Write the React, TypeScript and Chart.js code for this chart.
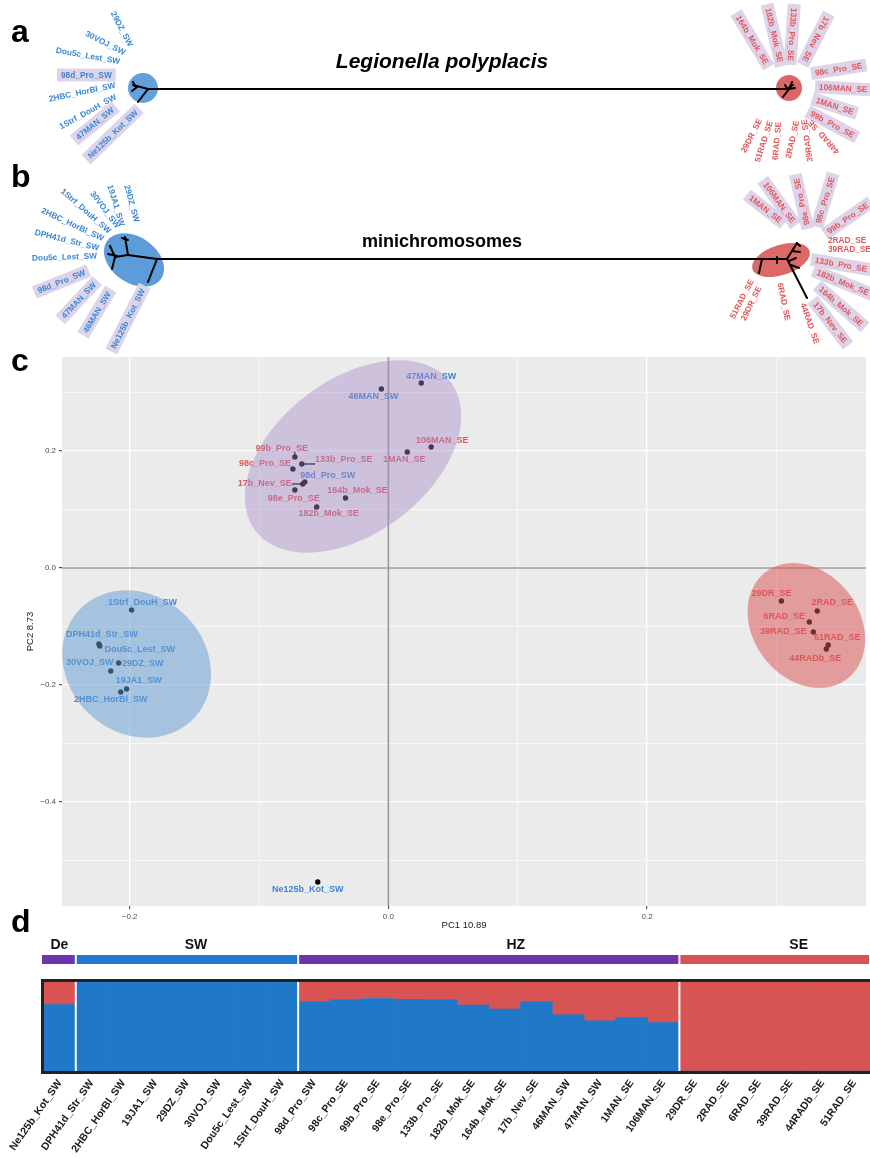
import React, { useEffect, useRef } from 'react';
import { Chart, registerables } from 'chart.js';

Chart.register(...registerables);

const FONT = '"Liberation Sans", Arial, Helvetica, sans-serif';
const SW_TEXT = '#3b87d4';
const SE_TEXT = '#e0585b';
const HL_BOX = '#ddd4ea';
const tipColor = (n: string) => (n.endsWith('_SE') ? SE_TEXT : SW_TEXT);

/* ---------------- panel d: STRUCTURE ancestry ---------------- */
const structSamples = [
  'Ne125b_Kot_SW', 'DPH41d_Str_SW', '2HBC_HorBl_SW', '19JA1_SW', '29DZ_SW', '30VOJ_SW',
  'Dou5c_Lest_SW', '1Strf_DouH_SW', '98d_Pro_SW', '98c_Pro_SE', '99b_Pro_SE', '98e_Pro_SE',
  '133b_Pro_SE', '182b_Mok_SE', '164b_Mok_SE', '17b_Nev_SE', '46MAN_SW', '47MAN_SW',
  '1MAN_SE', '106MAN_SE', '29DR_SE', '2RAD_SE', '6RAD_SE', '39RAD_SE', '44RADb_SE', '51RAD_SE',
];
const ancestrySW = [0.746, 1, 1, 1, 1, 1, 1, 1, 0.778, 0.8, 0.815, 0.804, 0.8, 0.741, 0.696, 0.778, 0.63, 0.563, 0.6, 0.544, 0, 0, 0, 0, 0, 0];
const ancestrySE = [0.254, 0, 0, 0, 0, 0, 0, 0, 0.222, 0.2, 0.185, 0.196, 0.2, 0.259, 0.304, 0.222, 0.37, 0.437, 0.4, 0.456, 1, 1, 1, 1, 1, 1];
const structGroups = ['De', 'SW', 'HZ', 'SE'];
const structGroupSizes = [1, 7, 12, 6];
const structGroupColors = ['#6a35ae', '#1f78c8', '#6a35ae', '#d85353'];
const structGroupLabelShift = [1, 9, 27, 24];

const sampleGroup: Record<string, string> = {};
(() => {
  let k = 0;
  structGroups.forEach((g, gi) => {
    for (let j = 0; j < structGroupSizes[gi]; j++) sampleGroup[structSamples[k++]] = g;
  });
})();
const isMixed = (n: string) => sampleGroup[n] === 'HZ' || sampleGroup[n] === 'De';

/* ---------------- panel c: PCA ---------------- */
const pcaSamples = [
  '47MAN_SW', '46MAN_SW', '106MAN_SE', '1MAN_SE', '99b_Pro_SE', '133b_Pro_SE', '98c_Pro_SE',
  '98d_Pro_SW', '17b_Nev_SE', '98e_Pro_SE', '164b_Mok_SE', '182b_Mok_SE', '29DR_SE', '2RAD_SE',
  '6RAD_SE', '39RAD_SE', '51RAD_SE', '44RADb_SE', '1Strf_DouH_SW', 'DPH41d_Str_SW',
  'Dou5c_Lest_SW', '29DZ_SW', '30VOJ_SW', '19JA1_SW', '2HBC_HorBl_SW', 'Ne125b_Kot_SW',
];
const pc1 = [0.0254, -0.0054, 0.0331, 0.0146, -0.0723, -0.0669, -0.0738, -0.0646, -0.0662, -0.0723, -0.0331, -0.0554,
  0.3038, 0.3315, 0.3254, 0.3285, 0.34, 0.3385, -0.1985, -0.2238, -0.2231, -0.2085, -0.2146, -0.2023, -0.2069, -0.0546];
const pc2 = [0.3162, 0.306, 0.2068, 0.1983, 0.1897, 0.1778, 0.1692, 0.147, 0.1436, 0.1333, 0.1197, 0.1043,
  -0.0564, -0.0735, -0.0923, -0.1094, -0.1316, -0.1385, -0.0718, -0.1299, -0.1333, -0.1624, -0.1761, -0.2068, -0.212, -0.5368];
// text-label nudges (pixels) in the same order as pcaSamples
const pcaLabelNudge = [
  [10, -7], [-8, 8], [11, -7], [-3, 8], [-13, -9], [42, -4], [-28, -6], [23, -6], [-38, 0], [-1, 8], [12, -7], [12, 7],
  [-10, -7], [15, -8], [-25, -5], [-30, 0], [9, -7], [-11, 9], [11, -7], [3, -9], [40, 4], [24, 1], [-21, -8], [12, -8], [-10, 7], [-10, 7],
];
const pcaLeaderSamples = ['99b_Pro_SE', '133b_Pro_SE', '17b_Nev_SE'];
const pcaXTicks = [-0.2, -0.1, 0, 0.1, 0.2, 0.3];
const pcaYTicks = [-0.5, -0.4, -0.3, -0.2, -0.1, 0, 0.1, 0.2, 0.3];
const pcaXRange = [-0.2523, 0.3692];
const pcaYRange = [-0.5778, 0.3607];
const pcaXTitle = 'PC1 10.89';
const pcaYTitle = 'PC2 8.73';
// confidence ellipses: centre and semi-axis vectors in data units
const pcaEllipseHZ = { center: [-0.0273, 0.1906], major: [0.0756, 0.1265], minor: [0.0357, -0.1051], fill: 'rgba(165,137,200,0.42)' };
const pcaEllipseSW = { center: [-0.1946, -0.1641], major: [0.0452, -0.0904], minor: [-0.0355, -0.0877], fill: 'rgba(101,157,213,0.52)' };
const pcaEllipseSE = { center: [0.3231, -0.0983], major: [0.0317, -0.0909], minor: [-0.0325, -0.0559], fill: 'rgba(219,85,85,0.52)' };
const pcaEllipses = [pcaEllipseHZ, pcaEllipseSW, pcaEllipseSE];

/* ---------------- panels a, b: trees ---------------- */
const treeATitle = 'Legionella polyplacis';
const treeBTitle = 'minichromosomes';

const treeALeftTips = ['29DZ_SW', '30VOJ_SW', 'Dou5c_Lest_SW', '98d_Pro_SW', '2HBC_HorBl_SW', '1Strf_DouH_SW', '47MAN_SW', 'Ne125b_Kot_SW'];
const treeARightTips = ['164b_Mok_SE', '182b_Mok_SE', '133b_Pro_SE', '17b_Nev_SE', '98c_Pro_SE', '106MAN_SE', '1MAN_SE', '99b_Pro_SE',
  '29DR_SE', '51RAD_SE', '6RAD_SE', '2RAD_SE', '39RAD_SE', '44RAD_SE'];
const treeBLeftTips = ['29DZ_SW', '19JA1_SW', '30VOJ_SW', '1Strf_DouH_SW', '2HBC_HorBl_SW', 'DPH41d_Str_SW', 'Dou5c_Lest_SW',
  '98d_Pro_SW', '47MAN_SW', '46MAN_SW', 'Ne125b_Kot_SW'];
const treeBRightTips = ['1MAN_SE', '106MAN_SE', '98e_Pro_SE', '98c_Pro_SE', '99b_Pro_SE', '2RAD_SE', '39RAD_SE', '133b_Pro_SE',
  '182b_Mok_SE', '164b_Mok_SE', '17b_Nev_SE', '44RAD_SE', '6RAD_SE', '29DR_SE', '51RAD_SE'];

// tree branches (local units relative to each clade node)
const treeALeftBranches = [[[14, 1], [5, 1]], [[5, 1], [-10, -3]], [[5, 1], [-5, 14]], [[-6, -1], [-11, 3]], [[-8, -2], [-10, -6]]];
const treeARightBranches = [[[-2, 1], [4, -3]], [[-6, 9], [3, -3]], [[0, 1], [6, 0]], [[1, -1], [3, -6]], [[-1, 2], [-4, -3]]];
const treeBLeftBranches = [[[23, -1], [14, 22]], [[23, -1], [-6, -5]], [[-6, -5], [-9, -23]], [[-12, -22], [-6, -20]],
  [[-6, -5], [-19, -3]], [[-19, -3], [-24, -14]], [[-19, -3], [-22, 9]], [[-17, -4], [-26, -6]]];
const treeBRightBranches = [[[6, -1], [-19, -1]], [[-19, -1], [-22, 13]], [[-4, -3], [-4, 3]], [[6, -1], [16, -17]],
  [[11, -9], [19, -8]], [[16, -17], [19, -14]], [[6, -1], [26, 38]], [[10, 5], [18, 8]], [[8, 1], [15, -2]]];

// label layout: [dx, dy, angle] of each tip label start, relative to clade node
const treeALeftLayout = [[-30, -76, 62], [-57, -55, 27], [-87, -38, 10], [-82, -13, 0], [-94, 11, -12], [-83, 39, -29], [-66, 50, -39], [-54, 69, -44]];
const treeARightLayout = [[-51, -72, 59], [-21, -80, 77], [5, -80, 94], [38, -71, 117], [26, -15, -9], [30, -1, 3], [27, 12, 18], [22, 25, 28],
  [-46, 64, -63], [-32, 74, -72], [-14, 72, -85], [-1, 70, -77], [21, 74, -98], [49, 65, -132]];
const treeBLeftLayout = [[-7, -75, 75], [-24, -75, 73], [-42, -68, 53], [-72, -70, 41], [-92, -50, 25], [-99, -28, 14], [-102, -2, -2],
  [-96, 31, -22], [-71, 57, -47], [-49, 72, -59], [-21, 88, -63]];
const treeBRightLayout = [[-31, -63, 38], [-16, -77, 54], [26, -35, -103], [37, -37, -73], [47, -28, -35], [47, -20, 0], [47, -11, 0],
  [34, 0, 10], [36, 12, 22], [39, 28, 41], [34, 43, 52], [22, 43, 71], [-1, 23, 78], [-38, 60, -64], [-49, 58, -63]];

const treePanels = [
  {
    title: treeATitle, titleFont: `italic bold 21px ${FONT}`, titleY: 62, letter: 'a', letterY: 42,
    left: { cx: 143, cy: 88, rx: 15, ry: 15, rot: 0, color: '#64a0dc', root: [14, 1], branches: treeALeftBranches, tips: treeALeftTips, layout: treeALeftLayout },
    right: { cx: 789, cy: 88, rx: 13, ry: 13, rot: 0, color: '#dc6565', root: [-2, 1], branches: treeARightBranches, tips: treeARightTips, layout: treeARightLayout },
  },
  {
    title: treeBTitle, titleFont: `bold 18px ${FONT}`, titleY: 242, letter: 'b', letterY: 187,
    left: { cx: 134, cy: 260, rx: 33, ry: 23, rot: 35, color: '#5d9bd9', root: [23, -1], branches: treeBLeftBranches, tips: treeBLeftTips, layout: treeBLeftLayout },
    right: { cx: 781, cy: 260, rx: 30, ry: 15, rot: -18, color: '#dc6868', root: [6, -1], branches: treeBRightBranches, tips: treeBRightTips, layout: treeBRightLayout },
  },
];

const TREE_H = 360;

const fmtTick = (v: number) => (Math.abs(v) < 1e-9 ? '0.0' : v.toFixed(1).replace('-', '\u2212'));
const isMajor = (v: number) => Math.abs(Math.round(v * 10)) % 2 === 0;

const treePlugin = {
  id: 'treeDecor',
  beforeDatasetsDraw(chart: any) {
    const { ctx, scales } = chart;
    const sx = (v: number) => scales.x.getPixelForValue(v);
    const sy = (v: number) => scales.y.getPixelForValue(v);
    ctx.save();
    treePanels.forEach((p) => {
      [p.left, p.right].forEach((n) => {
        ctx.beginPath();
        ctx.ellipse(sx(n.cx), sy(n.cy), n.rx, n.ry, (n.rot * Math.PI) / 180, 0, Math.PI * 2);
        ctx.fillStyle = n.color;
        ctx.fill();
      });
    });
    ctx.restore();
  },
  afterDatasetsDraw(chart: any) {
    const { ctx, scales } = chart;
    const sx = (v: number) => scales.x.getPixelForValue(v);
    const sy = (v: number) => scales.y.getPixelForValue(v);
    ctx.save();
    ctx.font = `bold 8.3px ${FONT}`;
    treePanels.forEach((p) => {
      [p.left, p.right].forEach((n) => {
        n.tips.forEach((t: string, i: number) => {
          const [dx, dy, ang] = n.layout[i];
          ctx.save();
          ctx.translate(sx(n.cx + dx), sy(n.cy + dy));
          ctx.rotate((ang * Math.PI) / 180);
          const w = ctx.measureText(t).width;
          if (isMixed(t)) {
            ctx.fillStyle = HL_BOX;
            ctx.fillRect(-4, -6.5, w + 8, 13);
          }
          ctx.fillStyle = tipColor(t);
          ctx.textAlign = 'left';
          ctx.textBaseline = 'middle';
          ctx.fillText(t, 0, 0.5);
          ctx.restore();
        });
      });
    });
    ctx.restore();
  },
  afterDraw(chart: any) {
    const { ctx, scales } = chart;
    const sx = (v: number) => scales.x.getPixelForValue(v);
    const sy = (v: number) => scales.y.getPixelForValue(v);
    ctx.save();
    treePanels.forEach((p) => {
      ctx.fillStyle = '#000';
      ctx.font = p.titleFont;
      ctx.textAlign = 'center';
      ctx.textBaseline = 'middle';
      ctx.fillText(p.title, sx(442), sy(p.titleY));
      ctx.font = `bold 32px ${FONT}`;
      ctx.textAlign = 'left';
      ctx.textBaseline = 'alphabetic';
      ctx.fillText(p.letter, sx(11), sy(p.letterY));
    });
    ctx.restore();
  },
};

const pcaPlugin = {
  id: 'pcaDecor',
  beforeDraw(chart: any) {
    const { ctx, chartArea: a } = chart;
    ctx.save();
    ctx.fillStyle = '#ebebeb';
    ctx.fillRect(a.left, a.top, a.right - a.left, a.bottom - a.top);
    ctx.restore();
  },
  beforeDatasetsDraw(chart: any) {
    const { ctx, chartArea: a, scales } = chart;
    const x0 = scales.x.getPixelForValue(0);
    const y0 = scales.y.getPixelForValue(0);
    ctx.save();
    ctx.strokeStyle = '#9c9c9c';
    ctx.lineWidth = 1.7;
    ctx.beginPath();
    ctx.moveTo(x0, a.top);
    ctx.lineTo(x0, a.bottom);
    ctx.moveTo(a.left, y0);
    ctx.lineTo(a.right, y0);
    ctx.stroke();
    ctx.restore();
  },
  afterDatasetsDraw(chart: any) {
    const { ctx, chartArea: a, scales } = chart;
    const sx = (v: number) => scales.x.getPixelForValue(v);
    const sy = (v: number) => scales.y.getPixelForValue(v);
    ctx.save();
    ctx.beginPath();
    ctx.rect(a.left, a.top, a.right - a.left, a.bottom - a.top);
    ctx.clip();
    ctx.font = `bold 9px ${FONT}`;
    ctx.textAlign = 'center';
    ctx.textBaseline = 'middle';
    pcaSamples.forEach((s, i) => {
      const px = sx(pc1[i]);
      const py = sy(pc2[i]);
      const lx = px + pcaLabelNudge[i][0];
      const ly = py + pcaLabelNudge[i][1];
      const w = ctx.measureText(s).width;
      if (pcaLeaderSamples.includes(s)) {
        const nx = Math.min(Math.max(px, lx - w / 2), lx + w / 2);
        const ny = Math.min(Math.max(py, ly - 4), ly + 4);
        ctx.strokeStyle = '#000';
        ctx.lineWidth = 1.3;
        ctx.beginPath();
        ctx.moveTo(nx, ny);
        ctx.lineTo(px, py);
        ctx.stroke();
      }
      ctx.fillStyle = tipColor(s);
      ctx.fillText(s, lx, ly);
    });
    pcaEllipses.forEach((e) => {
      ctx.beginPath();
      for (let k = 0; k <= 144; k++) {
        const t = (k / 144) * Math.PI * 2;
        const vx = e.center[0] + Math.cos(t) * e.major[0] + Math.sin(t) * e.minor[0];
        const vy = e.center[1] + Math.cos(t) * e.major[1] + Math.sin(t) * e.minor[1];
        if (k === 0) ctx.moveTo(sx(vx), sy(vy));
        else ctx.lineTo(sx(vx), sy(vy));
      }
      ctx.closePath();
      ctx.fillStyle = e.fill;
      ctx.fill();
    });
    ctx.restore();
  },
  afterDraw(chart: any) {
    const { ctx, chartArea: a } = chart;
    ctx.save();
    ctx.fillStyle = '#1a1a1a';
    ctx.font = `9.5px ${FONT}`;
    ctx.textAlign = 'center';
    ctx.textBaseline = 'middle';
    ctx.fillText(pcaXTitle, (a.left + a.right) / 2, a.bottom + 19);
    ctx.save();
    ctx.translate(30, (a.top + a.bottom) / 2);
    ctx.rotate(-Math.PI / 2);
    ctx.fillText(pcaYTitle, 0, 0);
    ctx.restore();
    ctx.fillStyle = '#000';
    ctx.font = `bold 32px ${FONT}`;
    ctx.textAlign = 'left';
    ctx.textBaseline = 'alphabetic';
    ctx.fillText('c', 11, a.top + 14);
    ctx.fillText('d', 11, a.bottom + 26);
    ctx.restore();
  },
};

const structPlugin = {
  id: 'structDecor',
  afterDatasetsDraw(chart: any) {
    const { ctx, chartArea: a, scales } = chart;
    const x = scales.x;
    const half = (x.getPixelForValue(1) - x.getPixelForValue(0)) / 2;
    const bounds: number[][] = [];
    let idx = 0;
    structGroupSizes.forEach((n) => {
      bounds.push([idx, idx + n - 1]);
      idx += n;
    });
    ctx.save();
    ctx.strokeStyle = '#fff';
    ctx.lineWidth = 2;
    bounds.slice(1).forEach(([s]) => {
      const px = x.getPixelForValue(s) - half;
      ctx.beginPath();
      ctx.moveTo(px, a.top);
      ctx.lineTo(px, a.bottom);
      ctx.stroke();
    });
    ctx.strokeStyle = '#222';
    ctx.lineWidth = 3;
    ctx.strokeRect(a.left - 1.5, a.top - 1.5, a.right - a.left + 3, a.bottom - a.top + 3);
    bounds.forEach(([s, e], gi) => {
      const x0 = x.getPixelForValue(s) - half + (gi === 0 ? -2 : 1);
      const x1 = x.getPixelForValue(e) + half - 1;
      ctx.fillStyle = structGroupColors[gi];
      ctx.fillRect(x0, a.top - 27, x1 - x0, 9);
      ctx.fillStyle = '#111';
      ctx.font = `bold 14px ${FONT}`;
      ctx.textAlign = 'center';
      ctx.textBaseline = 'alphabetic';
      ctx.fillText(structGroups[gi], (x0 + x1) / 2 + structGroupLabelShift[gi], a.top - 33);
    });
    ctx.font = `bold 10.5px ${FONT}`;
    ctx.fillStyle = '#1a1a1a';
    ctx.textAlign = 'right';
    ctx.textBaseline = 'middle';
    structSamples.forEach((s, i) => {
      ctx.save();
      ctx.translate(x.getPixelForValue(i), a.bottom + 10);
      ctx.rotate((-55 * Math.PI) / 180);
      ctx.fillText(s, 0, 0);
      ctx.restore();
    });
    ctx.restore();
  },
};

function treeDatasets() {
  const ds: any[] = [];
  const seg = (pts: number[][]) => ({
    data: pts.map(([x, y]) => ({ x, y })),
    showLine: true,
    borderColor: '#000',
    borderWidth: 2,
    pointRadius: 0,
    borderCapStyle: 'round',
    fill: false,
  });
  treePanels.forEach((p) => {
    const L = p.left;
    const R = p.right;
    ds.push(seg([[L.cx + L.root[0], L.cy + L.root[1]], [R.cx + R.root[0], R.cy + R.root[1]]]));
    [L, R].forEach((n) => {
      n.branches.forEach((b: number[][]) => ds.push(seg(b.map(([dx, dy]) => [n.cx + dx, n.cy + dy]))));
    });
  });
  return ds;
}

export default function App() {
  const treeRef = useRef<HTMLCanvasElement>(null);
  const pcaRef = useRef<HTMLCanvasElement>(null);
  const structRef = useRef<HTMLCanvasElement>(null);

  useEffect(() => {
    const charts: Chart[] = [];
    const common = {
      animation: false as const,
      responsive: false,
      devicePixelRatio: 1,
      events: [] as any[],
    };

    charts.push(
      new Chart(treeRef.current as HTMLCanvasElement, {
        type: 'scatter',
        data: { datasets: treeDatasets() },
        options: {
          ...common,
          layout: { padding: 0 },
          scales: {
            x: { type: 'linear', min: 0, max: 870, display: false },
            y: { type: 'linear', min: 0, max: TREE_H, reverse: true, display: false },
          },
          plugins: { legend: { display: false }, tooltip: { enabled: false } },
        } as any,
        plugins: [treePlugin],
      })
    );

    const axisGrid = {
      color: '#ffffff',
      lineWidth: (c: any) => (c.tick && isMajor(c.tick.value) ? 1.3 : 0.6),
      drawTicks: true,
      tickLength: 3,
      tickWidth: 1,
      tickColor: (c: any) => (c.tick && isMajor(c.tick.value) ? '#333333' : 'rgba(0,0,0,0)'),
    };
    const axisTicks = {
      callback: (v: any) => (isMajor(Number(v)) ? fmtTick(Number(v)) : ''),
      color: '#4d4d4d',
      font: { size: 8, family: FONT },
      padding: 3,
      maxRotation: 0,
      autoSkip: false,
    };

    charts.push(
      new Chart(pcaRef.current as HTMLCanvasElement, {
        type: 'scatter',
        data: {
          datasets: [
            {
              data: pcaSamples.map((_, i) => ({ x: pc1[i], y: pc2[i] })),
              pointRadius: 2.7,
              backgroundColor: '#000000',
              borderWidth: 0,
            },
          ],
        },
        options: {
          ...common,
          layout: { padding: { top: 17, left: 0, right: 0, bottom: 0 } },
          scales: {
            x: {
              type: 'linear',
              min: pcaXRange[0],
              max: pcaXRange[1],
              afterBuildTicks: (s: any) => {
                s.ticks = pcaXTicks.map((v) => ({ value: v }));
              },
              afterFit: (s: any) => {
                s.height = 34;
              },
              grid: axisGrid,
              border: { display: false },
              ticks: axisTicks,
            },
            y: {
              type: 'linear',
              min: pcaYRange[0],
              max: pcaYRange[1],
              afterBuildTicks: (s: any) => {
                s.ticks = pcaYTicks.map((v) => ({ value: v }));
              },
              afterFit: (s: any) => {
                s.width = 62;
              },
              grid: axisGrid,
              border: { display: false },
              ticks: axisTicks,
            },
          },
          plugins: { legend: { display: false }, tooltip: { enabled: false } },
        } as any,
        plugins: [pcaPlugin],
      })
    );

    charts.push(
      new Chart(structRef.current as HTMLCanvasElement, {
        type: 'bar',
        data: {
          labels: structSamples,
          datasets: [
            { label: 'SW ancestry', data: ancestrySW, backgroundColor: '#1f78c8', borderWidth: 0, barPercentage: 1, categoryPercentage: 1 },
            { label: 'SE ancestry', data: ancestrySE, backgroundColor: '#d85353', borderWidth: 0, barPercentage: 1, categoryPercentage: 1 },
          ],
        },
        options: {
          ...common,
          layout: { padding: { left: 44, right: 0, top: 52, bottom: 87 } },
          scales: {
            x: { stacked: true, display: false },
            y: { stacked: true, display: false, min: 0, max: 1 },
          },
          plugins: { legend: { display: false }, tooltip: { enabled: false } },
        } as any,
        plugins: [structPlugin],
      })
    );

    return () => charts.forEach((c) => c.destroy());
  }, []);

  return (
    <div style={{ position: 'absolute', left: 0, top: 0, width: 870, height: 1158, overflow: 'hidden', background: '#fff' }}>
      <canvas ref={structRef} width={870} height={228} style={{ position: 'absolute', left: 0, top: 930, width: 870, height: 228 }} />
      <canvas ref={pcaRef} width={870} height={600} style={{ position: 'absolute', left: 0, top: 340, width: 870, height: 600 }} />
      <canvas ref={treeRef} width={870} height={TREE_H} style={{ position: 'absolute', left: 0, top: 0, width: 870, height: TREE_H }} />
    </div>
  );
}
